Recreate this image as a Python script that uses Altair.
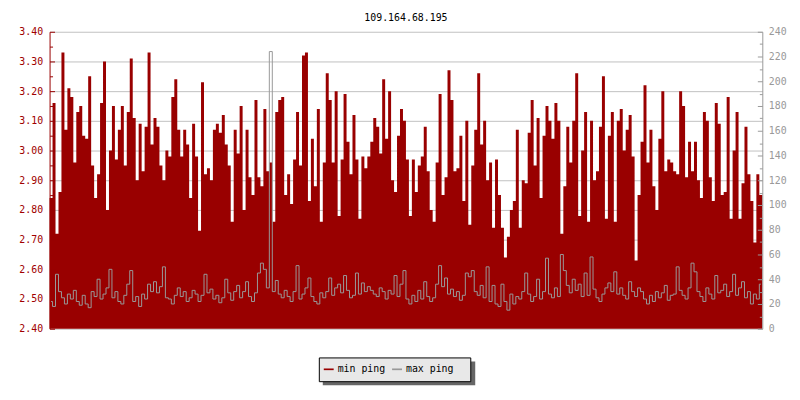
import altair as alt
import pandas as pd

TITLE = "109.164.68.195"
START = "18:12"
STEP_MIN = 6
TICK_LABELS = ["18:12", "20:13", "22:15", "00:16", "02:17", "04:18",
               "06:19", "08:21", "10:22", "12:24", "14:25", "16:26"]
LEFT_TICKS = [2.40, 2.50, 2.60, 2.70, 2.80, 2.90, 3.00, 3.10, 3.20, 3.30, 3.40]
LEFT_ALL_TICKS = [2.40, 2.45, 2.50, 2.55, 2.60, 2.65, 2.70, 2.75, 2.80, 2.85, 2.90,
                  2.95, 3.00, 3.05, 3.10, 3.15, 3.20, 3.25, 3.30, 3.35, 3.40]
RIGHT_TICKS = [0, 20, 40, 60, 80, 100, 120, 140, 160, 180, 200, 220, 240]
RIGHT_ALL_TICKS = [0, 10, 20, 30, 40, 50, 60, 70, 80, 90, 100, 110, 120, 130, 140,
                   150, 160, 170, 180, 190, 200, 210, 220, 230, 240]
SERIES = ["min ping", "max ping"]
COLORS = ["#990000", "#999999"]

MIN_PING = [
    2.84, 3.16, 2.72, 2.86, 3.33, 3.07, 3.21, 3.18, 2.96, 3.13,
    3.15, 3.05, 3.04, 3.25, 2.95, 2.84, 2.92, 3.16, 3.30, 2.80,
    3.00, 3.15, 2.97, 3.07, 3.15, 2.95, 3.13, 3.31, 3.11, 2.90,
    3.09, 2.93, 3.08, 3.33, 3.02, 3.11, 3.08, 2.95, 2.90, 3.00,
    2.98, 3.18, 3.24, 3.07, 2.98, 3.07, 3.02, 2.84, 3.09, 2.98,
    2.73, 3.23, 2.92, 2.94, 2.90, 3.07, 3.09, 3.06, 3.12, 3.02,
    2.95, 2.76, 3.07, 2.99, 3.15, 2.80, 3.07, 2.91, 2.85, 3.17,
    2.91, 2.88, 3.14, 2.93, 2.96, 2.76, 3.13, 3.17, 3.18, 2.85,
    2.92, 2.82, 2.97, 3.13, 2.95, 3.32, 3.33, 2.83, 3.04, 2.88,
    3.14, 2.76, 2.96, 3.26, 3.17, 2.96, 3.20, 2.78, 2.97, 3.19,
    3.03, 2.92, 3.12, 2.97, 2.77, 2.98, 2.94, 2.98, 3.03, 3.11,
    3.08, 2.99, 3.24, 3.04, 3.20, 2.90, 2.86, 3.05, 3.14, 3.10,
    2.97, 2.78, 2.97, 2.86, 2.95, 2.98, 3.08, 2.93, 2.80, 2.76,
    2.96, 3.19, 2.85, 2.91, 3.27, 3.17, 2.93, 2.94, 3.05, 2.83,
    3.10, 2.75, 2.95, 3.07, 3.26, 3.02, 3.10, 2.90, 2.96, 2.74,
    2.97, 2.85, 2.74, 2.64, 2.71, 2.80, 2.83, 3.07, 2.74, 2.90,
    2.89, 3.06, 3.17, 2.95, 3.11, 2.84, 3.05, 3.15, 3.10, 3.04,
    3.16, 3.10, 2.72, 2.88, 3.08, 2.96, 3.10, 3.26, 2.78, 3.00,
    3.13, 2.76, 3.10, 2.90, 2.93, 3.08, 3.25, 2.77, 3.05, 3.13,
    2.76, 3.10, 3.14, 3.00, 3.07, 3.12, 2.98, 2.63, 2.85, 3.03,
    3.22, 2.96, 3.07, 2.88, 2.80, 3.04, 3.20, 2.93, 2.97, 2.96,
    2.93, 2.92, 3.20, 3.15, 2.91, 3.03, 2.93, 3.03, 2.90, 2.84,
    3.13, 3.10, 2.91, 2.83, 3.16, 3.09, 2.85, 2.86, 3.18, 2.77,
    3.00, 3.13, 2.77, 2.89, 3.08, 2.92, 2.83, 2.69, 2.92, 2.85,
]

MAX_PING = [
    22, 18, 44, 30, 25, 20, 28, 24, 31, 22, 19, 27, 20, 17, 30, 26, 40, 24, 28, 33,
    48, 25, 30, 22, 20, 27, 36, 47, 22, 26, 18, 28, 24, 36, 30, 38, 29, 34, 50, 25,
    24, 20, 27, 33, 26, 30, 22, 25, 31, 28, 22, 27, 44, 29, 32, 24, 27, 21, 25, 40,
    29, 23, 30, 35, 25, 30, 38, 26, 22, 29, 45, 53, 48, 33, 224, 30, 39, 28, 25, 31,
    26, 22, 30, 51, 24, 28, 33, 41, 26, 22, 20, 29, 25, 30, 41, 27, 33, 36, 29, 43,
    31, 25, 27, 45, 28, 37, 30, 34, 31, 28, 26, 33, 30, 24, 31, 28, 43, 26, 36, 47,
    24, 20, 27, 22, 31, 24, 38, 26, 22, 25, 36, 51, 34, 41, 28, 32, 26, 30, 23, 27,
    45, 42, 47, 30, 27, 35, 25, 50, 22, 35, 20, 18, 36, 22, 15, 28, 20, 26, 24, 30,
    45, 28, 22, 26, 40, 24, 30, 57, 28, 25, 33, 26, 60, 47, 35, 29, 40, 31, 36, 26,
    45, 27, 58, 32, 25, 22, 28, 33, 37, 30, 46, 28, 33, 27, 24, 38, 30, 26, 33, 30,
    24, 20, 27, 22, 30, 25, 29, 35, 23, 27, 28, 50, 31, 27, 24, 33, 53, 46, 30, 26,
    22, 33, 28, 24, 43, 29, 31, 36, 26, 30, 44, 27, 33, 38, 25, 30, 20, 28, 24, 36,
]

MONO = "DejaVu Sans Mono"


def to_min(s):
    h, m = s.split(":")
    return int(h) * 60 + int(m)


start = to_min(START)
tick_vals = [(to_min(t) - start) % 1440 for t in TICK_LABELS]
n = len(MIN_PING)
df = pd.DataFrame({
    "tm": [i * STEP_MIN + STEP_MIN / 2 for i in range(n)],
    "maxp": MAX_PING,
    "s_max": [SERIES[1]] * n,
})
# step-after area: each sample holds from its start until the next sample;
# the final row only closes the last step at the end of the period.
area_df = pd.DataFrame({
    "t0": [i * STEP_MIN for i in range(n)] + [n * STEP_MIN],
    "minp": MIN_PING + [MIN_PING[-1]],
    "s_min": [SERIES[0]] * (n + 1),
})

label_expr = "[" + ",".join("'%s'" % t for t in TICK_LABELS) + "][indexof([" + \
    ",".join(str(v) for v in tick_vals) + "], datum.value)]"

x_scale = alt.Scale(domain=[0, 1440], nice=False, zero=False)
left_scale = alt.Scale(domain=[LEFT_TICKS[0], LEFT_TICKS[-1]], nice=False, zero=False)
right_scale = alt.Scale(domain=[RIGHT_TICKS[0], RIGHT_TICKS[-1]], nice=False, zero=False)
color_scale = alt.Scale(domain=SERIES, range=COLORS)

x_axis = alt.Axis(values=tick_vals, labelExpr=label_expr, title=None,
                  domainColor="black", ticks=False, grid=True, gridColor="black",
                  gridDash=[0, 295, 5, 1000], labelFont=MONO, labelFontSize=10,
                  labelColor="black", labelPadding=4, labelFlush=False,
                  labelOverlap=False, zindex=1)

area = alt.Chart(area_df).mark_area(interpolate="step-after", opacity=1).encode(
    x=alt.X("t0:Q", scale=x_scale, axis=x_axis),
    y=alt.Y("minp:Q", scale=left_scale,
            axis=alt.Axis(orient="left", values=LEFT_TICKS, format=".2f", title=None,
                          labelColor="#a00000", domainColor="#990000", ticks=False,
                          grid=True, gridColor="#c0c0c0", labelFont=MONO,
                          labelFontSize=10, labelPadding=7, labelFlush=False, zindex=0)),
    y2=alt.datum(LEFT_TICKS[0]),
    color=alt.Color("s_min:N", scale=color_scale,
                    legend=alt.Legend(orient="none", legendX=277, legendY=336,
                                      direction="horizontal", title=None,
                                      padding=0, symbolType="M-1,-0.17H1V0.17H-1Z",
                                      symbolSize=100, symbolStrokeWidth=0,
                                      labelFont=MONO, labelFontSize=10,
                                      labelColor="black", columnPadding=6,
                                      labelOffset=4, values=SERIES)),
)

left_ticks = alt.Chart(area_df).mark_point(opacity=0).encode(
    x=alt.X("t0:Q", axis=None),
    y=alt.Y("minp:Q", scale=left_scale,
            axis=alt.Axis(orient="left", values=LEFT_ALL_TICKS, title=None, labels=False,
                          domain=False, ticks=False, grid=True, gridColor="#990000",
                          gridDash={"condition": {"test": "round(datum.value*100) % 10 == 0",
                                                  "value": [5, 3000]},
                                    "value": [3, 3000]},
                          zindex=1)),
)

line = alt.Chart(df).mark_line(interpolate="step", strokeWidth=1).encode(
    x=alt.X("tm:Q", axis=None),
    y=alt.Y("maxp:Q", scale=right_scale,
            axis=alt.Axis(orient="right", values=RIGHT_TICKS, format="d", title=None,
                          labelColor="#999999", domainColor="#999999", ticks=False,
                          grid=False, labelFont=MONO, labelFontSize=10, labelPadding=6,
                          labelFlush=False, zindex=1)),
    color=alt.Color("s_max:N", legend=None),
)

right_ticks = alt.Chart(df).mark_point(opacity=0).encode(
    x=alt.X("tm:Q", axis=None),
    y=alt.Y("maxp:Q", scale=right_scale,
            axis=alt.Axis(orient="right", values=RIGHT_ALL_TICKS, title=None, labels=False,
                          domain=False, ticks=False, grid=True, gridColor="#999999",
                          gridDash={"condition": {"test": "datum.value % 20 == 0",
                                                  "value": [5, 3000]},
                                    "value": [3, 3000]},
                          zindex=1)),
)

box_df = pd.DataFrame({"k": [0]})
shadow = alt.Chart(box_df).mark_rect(color="#666666").encode(
    x=alt.value(276), x2=alt.value(430), y=alt.value(333), y2=alt.value(357)
)
legend_box = alt.Chart(box_df).mark_rect(fill="#e8e8e8", stroke="black",
                                         strokeWidth=1).encode(
    x=alt.value(272.5), x2=alt.value(425.5), y=alt.value(329.5), y2=alt.value(353.5)
)

chart = alt.layer(area, left_ticks, line, right_ticks, shadow, legend_box).resolve_scale(
    y="independent"
).properties(
    width=720, height=300,
    title=alt.TitleParams(TITLE, font=MONO, fontSize=10, fontWeight="normal",
                          color="black", anchor="middle", offset=4),
    autosize=alt.AutoSizeParams(type="none"),
    padding={"left": 42, "top": 22, "right": 30, "bottom": 70},
).configure_view(stroke=None)

chart.save("out.html", embed_options={"renderer": "svg", "actions": False})
